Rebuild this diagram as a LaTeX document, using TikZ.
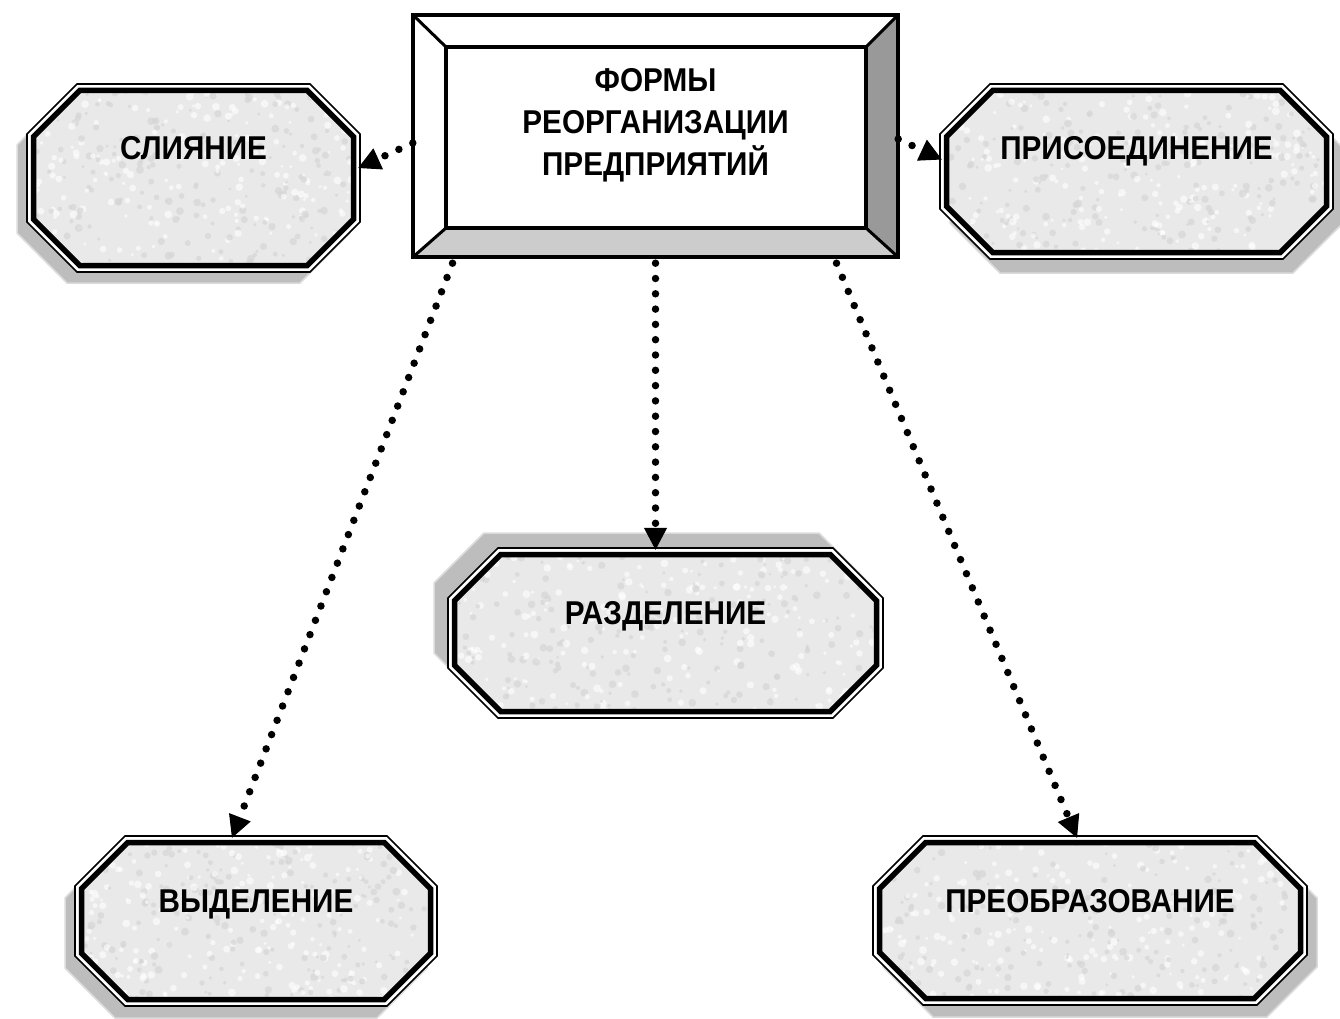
\documentclass[tikz,border=0pt]{standalone}
\usepackage{fontspec}
\setmainfont{Liberation Sans}
\newfontfamily\labfont[FakeStretch=0.9]{Liberation Sans}
\usetikzlibrary{arrows.meta,calc}
\definecolor{shadowgray}{gray}{0.74}
\definecolor{shadowedge}{gray}{0.86}
\definecolor{granite}{gray}{0.915}
\definecolor{speckdark}{gray}{0.84}
\definecolor{bevelright}{gray}{0.6}
\definecolor{bevelbottom}{gray}{0.8}
\tikzset{
  lab/.style={font=\labfont\fontsize{33}{42}\selectfont\bfseries, inner sep=0pt, text=black},
  conn/.style={line width=7.5pt, dash pattern=on 0pt off 15.3pt, line cap=round,
    -{Triangle[length=22pt,width=23pt,line width=1pt]}},
}
\newcommand{\octdraw}[6]{\path[#1] (#2,{#3+#6}) -- ({#2+#6},#3) -- ({#4-#6},#3) -- (#4,{#3+#6}) -- (#4,{#5-#6}) -- ({#4-#6},#5) -- ({#2+#6},#5) -- (#2,{#5-#6}) -- cycle;}
\newcommand{\octbox}[8]{%
  \pgfmathsetmacro\ax{#2+#6}\pgfmathsetmacro\ay{#3+#7}%
  \pgfmathsetmacro\bx{#4+#6}\pgfmathsetmacro\by{#5+#7}%
  \octdraw{fill=shadowgray,draw=shadowedge,line width=1.5pt}{\ax}{\ay}{\bx}{\by}{50}
  \octdraw{fill=white,draw=black,line width=1.6pt}{#2}{#3}{#4}{#5}{50}
  \pgfmathsetmacro\ix{#2+6.5}\pgfmathsetmacro\iy{#3+6.5}%
  \pgfmathsetmacro\jx{#4-6.5}\pgfmathsetmacro\jy{#5-6.5}%
  \begin{scope}
    \octdraw{clip}{\ix}{\iy}{\jx}{\jy}{46.2}
    \fill[granite] (#2,#3) rectangle (#4,#5);
    \foreach \k in {1,...,220}{%
      \pgfmathsetmacro\sx{#2+rnd*(#4-#2)}\pgfmathsetmacro\sy{#3+rnd*(#5-#3)}%
      \pgfmathsetmacro\sr{1.5+2.5*rnd}%
      \fill[speckdark, opacity=0.7] (\sx,\sy) circle[radius=\sr pt];
      \pgfmathsetmacro\tx{#2+rnd*(#4-#2)}\pgfmathsetmacro\tty{#3+rnd*(#5-#3)}%
      \fill[white, opacity=0.6] (\tx,\tty) circle[radius=\sr pt];
    }
  \end{scope}
  \octdraw{draw=black,line width=5.5pt}{\ix}{\iy}{\jx}{\jy}{46.2}
  \pgfmathsetmacro\cx{(#2+#4)/2}\pgfmathsetmacro\cy{(#3+#5)/2}%
  \pgfmathsetmacro\ww{#4-#2}\pgfmathsetmacro\hh{#5-#3}\pgfmathsetmacro\ty{#3+76}%
  \node[inner sep=0pt, minimum width=\ww pt, minimum height=\hh pt] (#1) at (\cx,\cy) {};
  \node[lab, anchor=base] (#1-t) at (\cx,\ty) {#8};
}
\begin{document}
\begin{tikzpicture}[x=1pt,y=-1pt]
\useasboundingbox (0,0) rectangle (1340,1019);
\pgfmathsetseed{42}
% central box
\fill[white] (413,15) rectangle (898,257);
\fill[bevelright] (898,15) -- (898,257) -- (866,228) -- (866,47) -- cycle;
\fill[bevelbottom] (413,257) -- (898,257) -- (866,228) -- (446,228) -- cycle;
\draw[line width=3pt] (413,15) -- (446,47) (898,15) -- (866,47) (413,257) -- (446,228) (898,257) -- (866,228);
\draw[line width=4.5pt] (446,47) rectangle (866,228);
\draw[line width=4.5pt] (413,15) rectangle (898,257);
\node[inner sep=0pt, minimum width=485pt, minimum height=242pt] (c) at (655.5,136) {};
\node[lab, align=center] (ct) at (655.5,125) {ФОРМЫ\\РЕОРГАНИЗАЦИИ\\ПРЕДПРИЯТИЙ};
% octagons
\octbox{S}{27}{84}{360}{272}{-10}{11}{СЛИЯНИЕ}
\octbox{P}{940}{84}{1333}{259}{10}{14}{ПРИСОЕДИНЕНИЕ}
\octbox{R}{448}{548}{883}{718}{-14}{-15}{РАЗДЕЛЕНИЕ}
\octbox{V}{75}{836}{437}{1006}{-10}{12}{ВЫДЕЛЕНИЕ}
\octbox{Q}{873}{836}{1307}{1005}{10}{12}{ПРЕОБРАЗОВАНИЕ}
% connectors
\draw[conn] ($(c.west)+(0,7)$) -- ($(S.east)+(-2,-10)$);
\draw[conn] ($(c.east)+(0,3)$) -- ($(P.west)+(2,-12)$);
\draw[conn] ($(c.south)+(0,6)$) -- ($(R.north)+(-10,2)$);
\draw[conn] ($(c.south)+(-203,6)$) -- ($(V.north)+(-24,2)$);
\draw[conn] ($(c.south)+(181,6)$) -- ($(Q.north)+(-13,2)$);
\end{tikzpicture}
\end{document}
